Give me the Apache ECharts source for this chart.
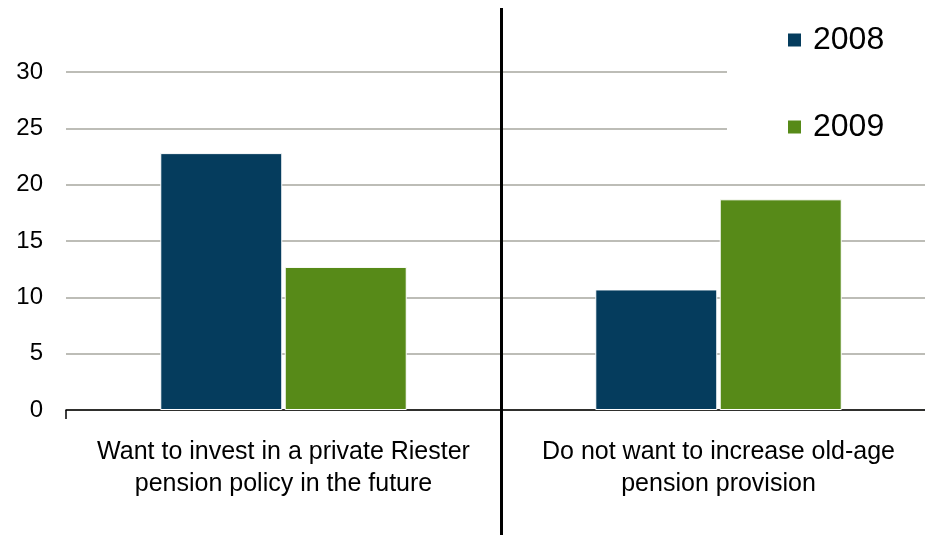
<!DOCTYPE html>
<html>
<head>
<meta charset="utf-8">
<script src="https://cdn.jsdelivr.net/npm/echarts@6/dist/echarts.min.js"></script>
<style>
html,body{margin:0;padding:0;background:#fff;}
#chart{width:925px;height:535px;}
</style>
</head>
<body>
<div id="chart"></div>
<script>
const categories = [
  'Want to invest in a private Riester\npension policy in the future',
  'Do not want to increase old-age\npension provision'
];
const seriesNames = ['2008', '2009'];
const values2008 = [22.8, 10.7];
const values2009 = [12.7, 18.7];
const yTicks = [0, 5, 10, 15, 20, 25, 30];

const FONT = '"Liberation Sans", Arial, sans-serif';
const chart = echarts.init(document.getElementById('chart'), null, {renderer: 'canvas'});

const option = {
  animation: false,
  backgroundColor: '#ffffff',
  textStyle: {fontFamily: FONT},
  grid: {left: 66, width: 870, top: 72, bottom: 125, containLabel: false, outerBoundsMode: 'none'},
  legend: {
    data: seriesNames,
    orient: 'vertical',
    left: 727,
    top: 14,
    padding: [10, 60, 20, 59],
    backgroundColor: '#ffffff',
    icon: 'rect',
    itemWidth: 15,
    itemHeight: 15,
    itemGap: 55,
    textStyle: {fontSize: 32, lineHeight: 32, color: '#000', fontFamily: FONT, padding: [0, 0, 0, 6]}
  },
  xAxis: {
    type: 'category',
    data: categories,
    axisLine: {lineStyle: {color: '#000', width: 1.5}},
    axisTick: {show: true, length: 9, lineStyle: {color: '#000', width: 1.5}},
    axisLabel: {fontSize: 25, lineHeight: 32, color: '#000', margin: 26, fontFamily: FONT, interval: 0}
  },
  yAxis: {
    type: 'value',
    min: yTicks[0],
    max: yTicks[yTicks.length - 1],
    interval: 5,
    axisLine: {show: false},
    axisTick: {show: false},
    axisLabel: {fontSize: 24, color: '#000', margin: 23, fontFamily: FONT},
    splitLine: {lineStyle: {color: '#bdbdb7', width: 2}}
  },
  series: [
    {
      name: seriesNames[0],
      type: 'bar',
      data: values2008,
      barWidth: 122,
      barGap: '2%',
      itemStyle: {color: '#053c5d', borderColor: '#ffffff', borderWidth: 1}
    },
    {
      name: seriesNames[1],
      type: 'bar',
      data: values2009,
      barWidth: 122,
      barGap: '2%',
      itemStyle: {color: '#578a18', borderColor: '#ffffff', borderWidth: 1}
    }
  ]
};
chart.setOption(option);

// separator between the two categories, placed from the axis scale
const c0 = chart.convertToPixel({xAxisIndex: 0}, categories[0]);
const c1 = chart.convertToPixel({xAxisIndex: 0}, categories[1]);
const sepX = Math.round((c0 + c1) / 2) + 0.5;
chart.setOption({
  graphic: [{
    type: 'line',
    z: 100,
    shape: {x1: sepX, y1: 8, x2: sepX, y2: 535},
    style: {stroke: '#000', lineWidth: 3}
  }]
});
</script>
</body>
</html>
